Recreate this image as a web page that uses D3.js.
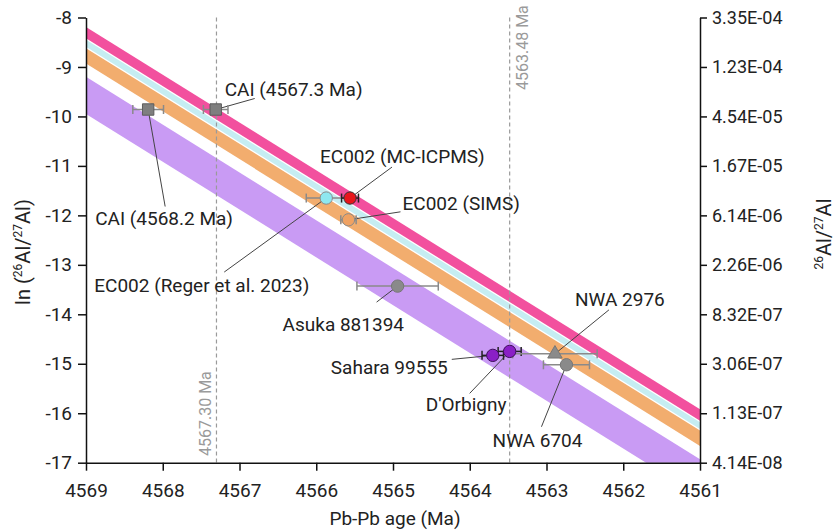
<!DOCTYPE html>
<html>
<head>
<meta charset="utf-8">
<script src="https://cdn.jsdelivr.net/npm/d3@7"></script>
<style>
  body { margin: 0; background: white; }
  svg { font-family: Roboto, "Liberation Sans", sans-serif; }
</style>
</head>
<body>
<div id="chart"></div>
<script>
// Data
var xTicks = [4569, 4568, 4567, 4566, 4565, 4564, 4563, 4562, 4561]
var yTicks = [-8, -9, -10, -11, -12, -13, -14, -15, -16, -17]
var rightTickLabels = ['3.35E-04', '1.23E-04', '4.54E-05', '1.67E-05', '6.14E-06',
  '2.26E-06', '8.32E-07', '3.06E-07', '1.13E-07', '4.14E-08']

// isochron bands: ln value of top / bottom edge at 4569 Ma and at 4561 Ma
var bandNames = ['pink', 'cyan', 'orange', 'purple']
var bandTopStart = [-8.19, -8.45, -8.62, -9.20]
var bandBottomStart = [-8.42, -8.59, -8.93, -9.95]
var bandTopEnd = [-15.92, -16.18, -16.35, -16.93]
var bandBottomEnd = [-16.15, -16.32, -16.66, -17.68]

var sampleNames = ['CAI (4568.2 Ma)', 'CAI (4567.3 Ma)', 'EC002 (Reger et al. 2023)',
  'EC002 (MC-ICPMS)', 'EC002 (SIMS)', 'Asuka 881394', 'Sahara 99555', "D'Orbigny",
  'NWA 2976', 'NWA 6704']
var sampleAge = [4568.19, 4567.31, 4565.87, 4565.56, 4565.58, 4564.94, 4563.70, 4563.48, 4562.89, 4562.74]
var sampleAgeErr = [0.20, 0.16, 0.26, 0.11, 0.10, 0.53, 0.14, 0.15, 0.55, 0.30]
var sampleLn = [-9.86, -9.86, -11.65, -11.65, -12.09, -13.43, -14.83, -14.75, -14.80, -15.02]

var refAges = [4567.30, 4563.48]
var refLabels = ['4567.30 Ma', '4563.48 Ma']

// Styles
var bandColors = { pink: '#f2509e', cyan: '#c6edf2', orange: '#f2ad6e', purple: '#c99bf4' }
var markerStyle = [
  { shape: 'square', fill: '#7f7f7f', stroke: '#5c5c5c', bar: '#8a8a8a' },
  { shape: 'square', fill: '#7f7f7f', stroke: '#5c5c5c', bar: '#8a8a8a' },
  { shape: 'circle', fill: '#8ee8f0', stroke: '#8a8a8a', bar: '#8a8a8a' },
  { shape: 'circle', fill: '#e8151b', stroke: '#333', bar: '#222' },
  { shape: 'circle', fill: '#f0a262', stroke: '#8a8a8a', bar: '#8a8a8a' },
  { shape: 'circle', fill: '#8a8a8a', stroke: '#777', bar: '#8a8a8a' },
  { shape: 'circle', fill: '#8a1fc6', stroke: '#3d0f5a', bar: '#222' },
  { shape: 'circle', fill: '#8a1fc6', stroke: '#3d0f5a', bar: '#222' },
  { shape: 'triangle', fill: '#8a8a8a', stroke: '#777', bar: '#8a8a8a' },
  { shape: 'circle', fill: '#8a8a8a', stroke: '#777', bar: '#8a8a8a' }
]
// label placement relative to the marker (px): text offset, anchor, leader end
var labelLayout = [
  { dx: -53, dy: 115, anchor: 'start', lx: 17, ly: 97 },
  { dx: 9, dy: -14, anchor: 'start', lx: 39, ly: -11 },
  { dx: -232, dy: 94, anchor: 'start', lx: -102, ly: 74 },
  { dx: -30, dy: -35, anchor: 'start', lx: 42, ly: -31 },
  { dx: 54, dy: -10, anchor: 'start', lx: 52, ly: -8 },
  { dx: -115, dy: 45, anchor: 'start', lx: -21, ly: 16 },
  { dx: -45, dy: 19, anchor: 'end', lx: -41, ly: 4 },
  { dx: -84, dy: 60, anchor: 'start', lx: -40, ly: 42 },
  { dx: 20, dy: -48, anchor: 'start', lx: 54, ly: -44 },
  { dx: 16, dy: 82, anchor: 'end', lx: -25, ly: 62 }
]

var chart = { width: 835, height: 531 }
chart.left = 86
chart.right = 700
chart.top = 17.5
chart.bottom = 462.7

var svg = d3.select('#chart').append('svg')
  .attr('width', chart.width)
  .attr('height', chart.height)

var x = d3.scaleLinear().domain([4569, 4561]).range([chart.left, chart.right])
var y = d3.scaleLinear().domain([-8, -17]).range([chart.top, chart.bottom])

svg.append('clipPath').attr('id', 'plot-clip')
  .append('rect')
  .attr('x', chart.left).attr('y', chart.top)
  .attr('width', chart.right - chart.left).attr('height', chart.bottom - chart.top)

var plot = svg.append('g').attr('clip-path', 'url(#plot-clip)')

// Bands
bandNames.forEach(function (name, i) {
  var pts = [
    [x(4569), y(bandTopStart[i])],
    [x(4561), y(bandTopEnd[i])],
    [x(4561), y(bandBottomEnd[i])],
    [x(4569), y(bandBottomStart[i])]
  ]
  plot.append('path')
    .attr('d', 'M' + pts.join('L') + 'Z')
    .attr('fill', bandColors[name])
})

// Reference dashed lines
refAges.forEach(function (age, i) {
  svg.append('line')
    .attr('x1', x(age)).attr('x2', x(age))
    .attr('y1', chart.top).attr('y2', chart.bottom)
    .attr('stroke', '#9a9a9a')
    .attr('stroke-width', 1.2)
    .attr('stroke-dasharray', '4,3')
})
svg.append('text')
  .attr('transform', 'translate(' + (x(refAges[0]) - 5) + ',456) rotate(-90)')
  .attr('font-size', 16).attr('fill', '#9a9a9a')
  .text(refLabels[0])
svg.append('text')
  .attr('transform', 'translate(' + (x(refAges[1]) + 18) + ',90) rotate(-90)')
  .attr('font-size', 16).attr('fill', '#9a9a9a')
  .text(refLabels[1])

// Leader lines
var samples = sampleNames.map(function (name, i) {
  return { name: name, age: sampleAge[i], err: sampleAgeErr[i], ln: sampleLn[i],
    style: markerStyle[i], lay: labelLayout[i] }
})

svg.selectAll('line.leader')
  .data(samples)
  .enter()
  .append('line')
  .attr('class', 'leader')
  .attr('x1', function (d) { return x(d.age) })
  .attr('y1', function (d) { return y(d.ln) })
  .attr('x2', function (d) { return x(d.age) + d.lay.lx })
  .attr('y2', function (d) { return y(d.ln) + d.lay.ly })
  .attr('stroke', '#444')
  .attr('stroke-width', 1)

// Error bars
var bars = svg.selectAll('g.errbar')
  .data(samples)
  .enter()
  .append('g')
  .attr('class', 'errbar')
  .attr('stroke', function (d) { return d.style.bar })
  .attr('stroke-width', 1.5)

bars.append('line')
  .attr('x1', function (d) { return x(d.age + d.err) })
  .attr('x2', function (d) { return x(d.age - d.err) })
  .attr('y1', function (d) { return y(d.ln) })
  .attr('y2', function (d) { return y(d.ln) })
bars.append('line')
  .attr('x1', function (d) { return x(d.age + d.err) })
  .attr('x2', function (d) { return x(d.age + d.err) })
  .attr('y1', function (d) { return y(d.ln) - 4.5 })
  .attr('y2', function (d) { return y(d.ln) + 4.5 })
bars.append('line')
  .attr('x1', function (d) { return x(d.age - d.err) })
  .attr('x2', function (d) { return x(d.age - d.err) })
  .attr('y1', function (d) { return y(d.ln) - 4.5 })
  .attr('y2', function (d) { return y(d.ln) + 4.5 })

// Markers
var symbolType = { square: d3.symbolSquare, circle: d3.symbolCircle, triangle: d3.symbolTriangle }
var symbolSize = { square: 130, circle: 120, triangle: 90 }
svg.selectAll('path.marker')
  .data(samples)
  .enter()
  .append('path')
  .attr('class', 'marker')
  .attr('d', function (d) { return d3.symbol().type(symbolType[d.style.shape]).size(symbolSize[d.style.shape])() })
  .attr('transform', function (d) { return 'translate(' + x(d.age) + ',' + y(d.ln) + ')' })
  .attr('fill', function (d) { return d.style.fill })
  .attr('stroke', function (d) { return d.style.stroke })
  .attr('stroke-width', 1)

// Labels
svg.selectAll('text.sample')
  .data(samples)
  .enter()
  .append('text')
  .attr('class', 'sample')
  .attr('x', function (d) { return x(d.age) + d.lay.dx })
  .attr('y', function (d) { return y(d.ln) + d.lay.dy })
  .attr('text-anchor', function (d) { return d.lay.anchor })
  .attr('font-size', 19)
  .attr('fill', '#222')
  .text(function (d) { return d.name })

// Axes
function styleAxis(g, size) {
  g.select('.domain').attr('stroke', '#111').attr('stroke-width', 1.5)
  g.selectAll('.tick line').attr('stroke', '#111').attr('stroke-width', 1.5)
  g.selectAll('.tick text').attr('fill', '#222').attr('font-size', size)
    .attr('font-family', 'Roboto, "Liberation Sans", sans-serif')
}

// plain hyphen for negatives, as in the original
var plainNumber = function (d) { return String(d) }

svg.append('g')
  .attr('transform', 'translate(0,' + chart.bottom + ')')
  .call(d3.axisBottom(x).tickValues(xTicks).tickFormat(plainNumber).tickSize(8).tickPadding(13).tickSizeOuter(0))
  .call(styleAxis, 19)

svg.append('g')
  .attr('transform', 'translate(' + chart.left + ',0)')
  .call(d3.axisLeft(y).tickValues(yTicks).tickFormat(plainNumber).tickSize(8).tickPadding(6).tickSizeOuter(0))
  .call(styleAxis, 19)

svg.append('g')
  .attr('transform', 'translate(' + chart.right + ',0)')
  .call(d3.axisRight(y).tickValues(yTicks).tickFormat(function (d, i) { return rightTickLabels[i] })
    .tickSize(7).tickPadding(5).tickSizeOuter(0))
  .call(styleAxis, 18)

// Axis titles
svg.append('text')
  .attr('x', (chart.left + chart.right) / 2 + 2)
  .attr('y', 525)
  .attr('text-anchor', 'middle')
  .attr('font-size', 19)
  .attr('fill', '#222')
  .text('Pb-Pb age (Ma)')

var yTitle = svg.append('text')
  .attr('transform', 'translate(30,252) rotate(-90)')
  .attr('text-anchor', 'middle')
  .attr('font-size', 20)
  .attr('fill', '#222')
yTitle.append('tspan').text('ln (')
yTitle.append('tspan').attr('font-size', 12).attr('dy', -8).text('26')
yTitle.append('tspan').attr('dy', 8).text('Al/')
yTitle.append('tspan').attr('font-size', 12).attr('dy', -8).text('27')
yTitle.append('tspan').attr('dy', 8).text('Al)')

var rTitle = svg.append('text')
  .attr('transform', 'translate(831,234) rotate(-90)')
  .attr('text-anchor', 'middle')
  .attr('font-size', 20)
  .attr('fill', '#222')
rTitle.append('tspan').attr('font-size', 12).attr('dy', -8).text('26')
rTitle.append('tspan').attr('dy', 8).text('Al/')
rTitle.append('tspan').attr('font-size', 12).attr('dy', -8).text('27')
rTitle.append('tspan').attr('dy', 8).text('Al')
</script>
</body>
</html>
